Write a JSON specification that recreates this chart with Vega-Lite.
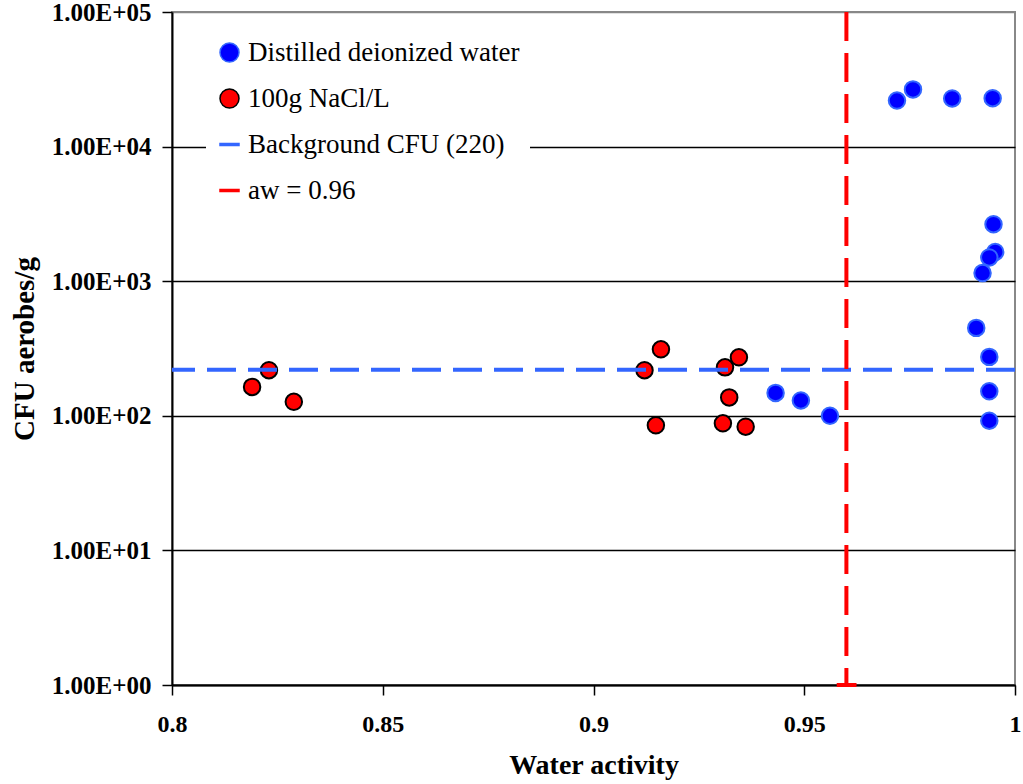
{
  "$schema": "https://vega.github.io/schema/vega-lite/v6.json",
  "width": 843,
  "height": 673,
  "autosize": {"type": "none"},
  "padding": {"left": 172, "top": 12, "right": 8, "bottom": 99},
  "background": "white",
  "config": {
    "view": {"stroke": "#888888", "strokeWidth": 2},
    "font": "Liberation Serif"
  },
  "datasets": {
    "points": [
      {"series": "Distilled deionized water", "aw": 0.9432, "cfu": 148},
      {"series": "Distilled deionized water", "aw": 0.9492, "cfu": 130},
      {"series": "Distilled deionized water", "aw": 0.9561, "cfu": 100},
      {"series": "Distilled deionized water", "aw": 0.9720, "cfu": 22000},
      {"series": "Distilled deionized water", "aw": 0.9758, "cfu": 26600},
      {"series": "Distilled deionized water", "aw": 0.9851, "cfu": 22800},
      {"series": "Distilled deionized water", "aw": 0.9947, "cfu": 22900},
      {"series": "Distilled deionized water", "aw": 0.9949, "cfu": 2650},
      {"series": "Distilled deionized water", "aw": 0.9953, "cfu": 1650},
      {"series": "Distilled deionized water", "aw": 0.9939, "cfu": 1500},
      {"series": "Distilled deionized water", "aw": 0.9923, "cfu": 1150},
      {"series": "Distilled deionized water", "aw": 0.9908, "cfu": 450},
      {"series": "Distilled deionized water", "aw": 0.9939, "cfu": 274},
      {"series": "Distilled deionized water", "aw": 0.9939, "cfu": 152},
      {"series": "Distilled deionized water", "aw": 0.9939, "cfu": 92},
      {"series": "100g NaCl/L", "aw": 0.8190, "cfu": 164},
      {"series": "100g NaCl/L", "aw": 0.8230, "cfu": 218},
      {"series": "100g NaCl/L", "aw": 0.8289, "cfu": 127},
      {"series": "100g NaCl/L", "aw": 0.9121, "cfu": 218},
      {"series": "100g NaCl/L", "aw": 0.9160, "cfu": 312},
      {"series": "100g NaCl/L", "aw": 0.9148, "cfu": 85},
      {"series": "100g NaCl/L", "aw": 0.9312, "cfu": 229},
      {"series": "100g NaCl/L", "aw": 0.9345, "cfu": 272},
      {"series": "100g NaCl/L", "aw": 0.9322, "cfu": 137},
      {"series": "100g NaCl/L", "aw": 0.9307, "cfu": 88},
      {"series": "100g NaCl/L", "aw": 0.9361, "cfu": 83}
    ],
    "hline": [{"series": "Background CFU (220)", "cfu": 220}],
    "vline": [{"series": "aw = 0.96", "aw": 0.96}],
    "cap": [{"aw": 0.9577, "aw2": 0.9624, "cfu": 1}]
  },
  "layer": [
    {
      "data": {"name": "points"},
      "mark": {"type": "point", "filled": true, "opacity": 1, "size": 272, "strokeWidth": 2},
      "encoding": {
        "x": {
          "field": "aw",
          "type": "quantitative",
          "scale": {"domain": [0.8, 1], "nice": false, "zero": false},
          "axis": {
            "title": "Water activity",
            "titleFont": "Liberation Serif",
            "titleFontSize": 28,
            "titleFontWeight": "bold",
            "titleColor": "black",
            "titlePadding": 15,
            "values": [0.8, 0.85, 0.9, 0.95, 1],
            "labelExpr": "'' + datum.value",
            "labelFont": "Liberation Serif",
            "labelFontSize": 24,
            "labelFontWeight": "bold",
            "labelColor": "black",
            "labelPadding": 17,
            "labelFlush": false,
            "grid": false,
            "domainColor": "black",
            "domainWidth": 2,
            "tickColor": "black",
            "tickWidth": 1.5,
            "tickSize": 10
          }
        },
        "y": {
          "field": "cfu",
          "type": "quantitative",
          "scale": {"type": "log", "domain": [1, 100000], "nice": false},
          "axis": {
            "title": "CFU aerobes/g",
            "titleFont": "Liberation Serif",
            "titleFontSize": 29,
            "titleFontWeight": "bold",
            "titleColor": "black",
            "titlePadding": 12,
            "values": [1, 10, 100, 1000, 10000, 100000],
            "labelExpr": "'1.00E+0' + round(log(datum.value) / LN10)",
            "labelFont": "Liberation Serif",
            "labelFontSize": 25,
            "labelFontWeight": "bold",
            "labelColor": "black",
            "labelPadding": 11,
            "labelFlush": false,
            "grid": true,
            "gridColor": {"condition": {"test": "datum.value >= 100000", "value": "#888888"}, "value": "black"},
            "gridWidth": 1.5,
            "domainColor": "black",
            "domainWidth": 2,
            "tickColor": "black",
            "tickWidth": 1.5,
            "tickSize": 10
          }
        },
        "fill": {"field": "series", "type": "nominal"},
        "stroke": {"field": "series", "type": "nominal"},
        "shape": {"field": "series", "type": "nominal"}
      }
    },
    {
      "data": {"name": "hline"},
      "mark": {"type": "rule", "strokeWidth": 4, "strokeDash": [29, 12]},
      "encoding": {
        "y": {"field": "cfu", "type": "quantitative"},
        "stroke": {"field": "series", "type": "nominal"}
      }
    },
    {
      "data": {"name": "vline"},
      "mark": {"type": "rule", "strokeWidth": 4, "strokeDash": [29, 12]},
      "encoding": {
        "x": {"field": "aw", "type": "quantitative"},
        "stroke": {"field": "series", "type": "nominal"}
      }
    },
    {
      "data": {"name": "cap"},
      "mark": {"type": "rule", "strokeWidth": 4, "color": "#ff0000"},
      "encoding": {
        "x": {"field": "aw", "type": "quantitative"},
        "x2": {"field": "aw2"},
        "y": {"field": "cfu", "type": "quantitative"}
      }
    }
  ],
  "encoding": {
    "fill": {
      "scale": {
        "domain": ["Distilled deionized water", "100g NaCl/L", "Background CFU (220)", "aw = 0.96"],
        "range": ["#0000ff", "#ff0000", "#3366ff", "#ff0000"]
      },
      "legend": {
        "title": null,
        "orient": "none",
        "legendX": 34,
        "legendY": 17,
        "fillColor": "white",
        "padding": 10,
        "labelFont": "Liberation Serif",
        "labelFontSize": 27,
        "labelColor": "black",
        "labelLimit": 500,
        "symbolSize": 361,
        "symbolStrokeWidth": 1.5,
        "rowPadding": 18,
        "labelOffset": 5
      }
    },
    "stroke": {
      "scale": {
        "domain": ["Distilled deionized water", "100g NaCl/L", "Background CFU (220)", "aw = 0.96"],
        "range": ["#3366ff", "#000000", "#3366ff", "#ff0000"]
      },
      "legend": {
        "title": null,
        "orient": "none",
        "legendX": 34,
        "legendY": 17,
        "fillColor": "white",
        "padding": 10,
        "labelFont": "Liberation Serif",
        "labelFontSize": 27,
        "labelColor": "black",
        "labelLimit": 500,
        "symbolSize": 361,
        "symbolStrokeWidth": 1.5,
        "rowPadding": 18,
        "labelOffset": 5
      }
    },
    "shape": {
      "scale": {
        "domain": ["Distilled deionized water", "100g NaCl/L", "Background CFU (220)", "aw = 0.96"],
        "range": ["circle", "circle", "M-1,-0.1H1V0.1H-1Z", "M-1,-0.1H1V0.1H-1Z"]
      },
      "legend": {
        "title": null,
        "orient": "none",
        "legendX": 34,
        "legendY": 17,
        "fillColor": "white",
        "padding": 10,
        "labelFont": "Liberation Serif",
        "labelFontSize": 27,
        "labelColor": "black",
        "labelLimit": 500,
        "symbolSize": 361,
        "symbolStrokeWidth": 1.5,
        "rowPadding": 18,
        "labelOffset": 5
      }
    }
  }
}
